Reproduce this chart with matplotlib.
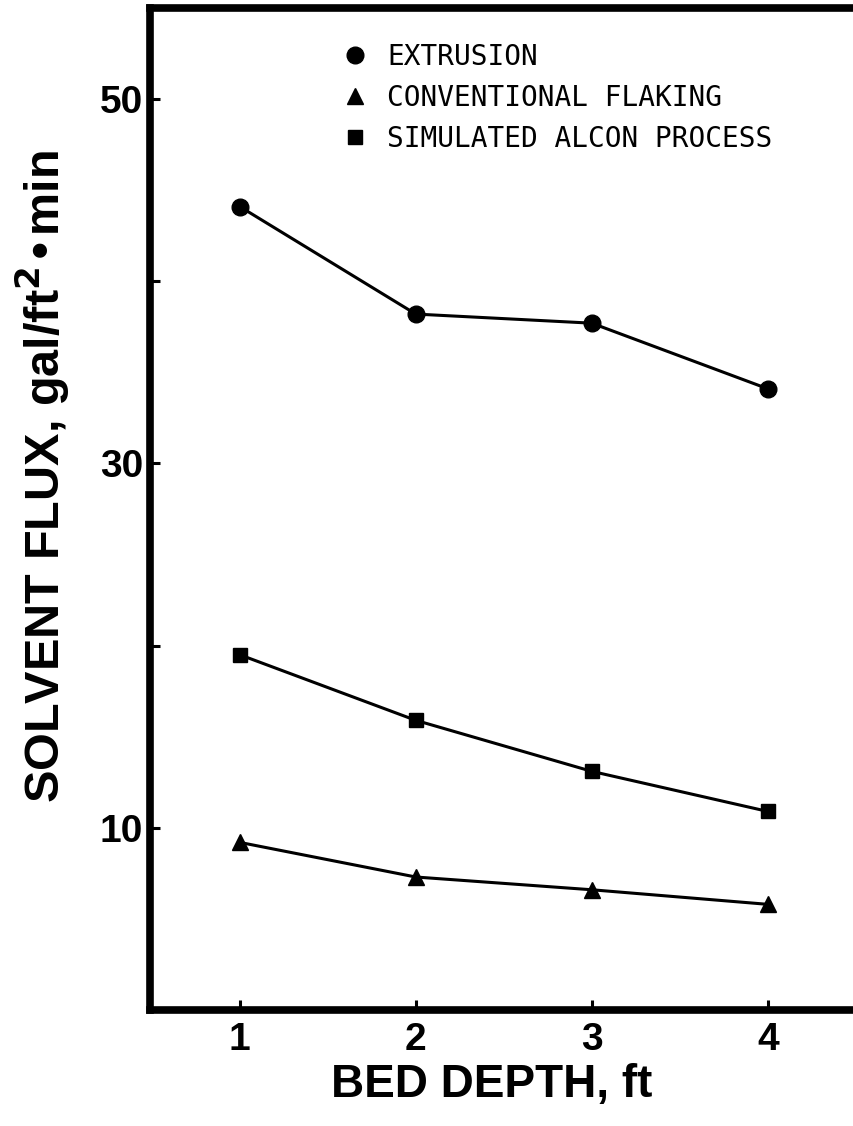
import matplotlib
matplotlib.use("Agg")
import matplotlib.pyplot as plt
from matplotlib.lines import Line2D

# data
bed_depth = [1, 2, 3, 4]
extrusion = [44.1, 38.2, 37.7, 34.1]
conventional_flaking = [9.2, 7.3, 6.6, 5.8]
simulated_alcon = [19.5, 15.9, 13.1, 10.9]

series_names = ["EXTRUSION", "CONVENTIONAL FLAKING", "SIMULATED ALCON PROCESS"]
y_ticks = [10, 20, 30, 40, 50]
y_tick_labels = ["10", "", "30", "", "50"]

plt.rcParams['font.family'] = ['Liberation Sans', 'DejaVu Sans']
plt.rcParams['mathtext.default'] = 'bf'

fig = plt.figure(figsize=(8.54, 11.26), dpi=100)
ax = fig.add_axes([150 / 854, 1 - 1010 / 1126, 1 - 150 / 854, (1010 - 8) / 1126])

styles = [("o", 12), ("^", 11), ("s", 10)]
all_series = [extrusion, conventional_flaking, simulated_alcon]
for vals, (mk, ms) in zip(all_series, styles):
    ax.plot(bed_depth, vals, color='black', lw=2.2, marker=mk, markersize=ms)

ax.set_xlim(0.49, 4.49)
ax.set_ylim(0, 55)
ax.set_xticks(bed_depth)
ax.set_xticklabels([str(b) for b in bed_depth], fontsize=28, fontweight='bold')
ax.set_yticks(y_ticks)
ax.set_yticklabels(y_tick_labels, fontsize=28, fontweight='bold')
ax.tick_params(direction='in', length=7, width=2.2, pad=9)
ax.tick_params(axis='y', pad=5)

for side in ['left', 'bottom', 'top']:
    ax.spines[side].set_linewidth(5.5)
ax.spines['right'].set_visible(False)

ax.set_xlabel("BED DEPTH, ft", fontsize=33, fontweight='bold')
ax.xaxis.set_label_coords((492 - 150) / 704, -0.053)
ax.set_ylabel("SOLVENT FLUX, gal/ft$^{2}$•min", fontsize=35, fontweight='bold')
ax.yaxis.set_label_coords((72 - 150) / 704, 0.532)

handles = [Line2D([], [], color='black', linestyle='none', marker=mk, markersize=ms)
           for mk, ms in styles]
leg = ax.legend(handles, series_names, loc='upper left', bbox_to_anchor=(0.244, 0.99),
                frameon=False, handlelength=0.6, handletextpad=0.85, labelspacing=0.47,
                prop={'family': ['DejaVu Sans Mono'], 'size': 20})

fig.savefig("out.png", dpi=100)
